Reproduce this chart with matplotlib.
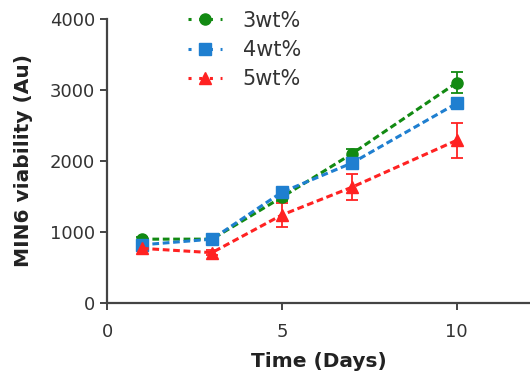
import matplotlib
matplotlib.use("Agg")
import matplotlib.pyplot as plt
from matplotlib.lines import Line2D

days = [1, 3, 5, 7, 10]
labels = ["3wt%", "4wt%", "5wt%"]
v3 = [900, 900, 1490, 2100, 3100]
e3 = [30, 30, 60, 70, 150]
v4 = [820, 900, 1560, 1970, 2810]
e4 = [30, 30, 50, 60, 80]
v5 = [770, 710, 1240, 1630, 2290]
e5 = [30, 40, 170, 180, 250]
colors = ["#128a12", "#1f7fd0", "#ff2222"]
markers = ["o", "s", "^"]
xticks = [0, 5, 10]
yticks = [0, 1000, 2000, 3000, 4000]

fig = plt.figure(figsize=(5.3, 3.77), dpi=100)
ax = fig.add_axes([0.202, 0.196, 0.798, 0.754])

handles = []
for vals, errs, c, m, lab in zip([v3, v4, v5], [e3, e4, e5], colors, markers, labels):
    ax.errorbar(days, vals, yerr=errs, color=c, marker=m, markersize=8,
                linestyle=(0, (2.2, 1.2)), linewidth=2.2, capsize=4, elinewidth=1.3,
                capthick=1.3, zorder=3)
    handles.append(Line2D([0], [0], color=c, marker=m, markersize=8,
                          linestyle=(0, (1, 2.5)), linewidth=2.2, label=lab))

ax.set_xlim(0, 12.1)
ax.set_ylim(0, 4000)
ax.set_xticks(xticks)
ax.set_yticks(yticks)
for s in ["top", "right"]:
    ax.spines[s].set_visible(False)
for s in ["left", "bottom"]:
    ax.spines[s].set_color("#444444")
    ax.spines[s].set_linewidth(1.6)
ax.tick_params(axis="both", colors="#444444", width=1.4, length=5, labelsize=13,
               labelcolor="#333333")
ax.tick_params(axis="x", pad=9)
ax.set_xlabel("Time (Days)", fontsize=14.5, fontweight="bold", color="#222222", labelpad=8)
ax.set_ylabel("MIN6 viability (Au)", fontsize=14.5, fontweight="bold", color="#222222", labelpad=12)

leg = ax.legend(handles=handles, loc="upper left", bbox_to_anchor=(0.148, 1.095),
                frameon=False, fontsize=15, handlelength=1.6, labelspacing=0.45,
                handletextpad=1.0, labelcolor="#333333")
fig.savefig("out.png", dpi=100)
